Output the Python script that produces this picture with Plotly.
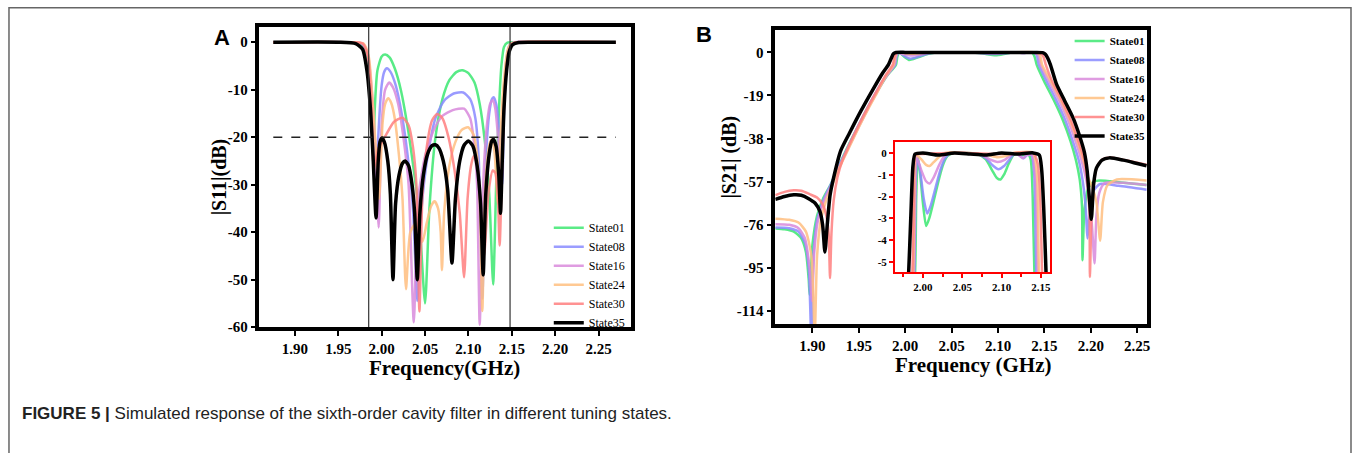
import plotly.graph_objects as go

W, H = 1355, 453


def px(x):
    return x / W


def py(y):
    return 1 - y / H


states = ["State01", "State08", "State16", "State24", "State30", "State35"]
colors = ["#3ee872", "#8a8cff", "#d98bdc", "#ffbf80", "#ff7f7f", "#000000"]
widths = [2.5, 2.5, 2.5, 2.5, 2.5, 3.5]

freq_ticks = [1.90, 1.95, 2.00, 2.05, 2.10, 2.15, 2.20, 2.25]
s11_ticks = [0, -10, -20, -30, -40, -50, -60]
s21_ticks = [0, -19, -38, -57, -76, -95, -114]
inset_xticks = [2.00, 2.05, 2.10, 2.15]
inset_yticks = [0, -1, -2, -3, -4, -5]

band_edges = [1.985, 2.148]
s11_spec = [(1.875, -20), (2.27, -20)]

# |S11| (dB) per tuning state, (GHz, dB)
s11_state01 = [(1.875, 0), (1.960, 0), (1.975, -0.3), (1.981, -1.5), (1.985, -6), (1.988, -14), (1.990, -24),
               (1.992, -14), (1.995, -6), (2.000, -3), (2.004, -2.6), (2.009, -3.2), (2.015, -5.5), (2.022, -10),
               (2.030, -18), (2.037, -27), (2.043, -36), (2.050, -55), (2.055, -35), (2.062, -20), (2.070, -12),
               (2.078, -8), (2.086, -6.3), (2.093, -5.9), (2.100, -6.5), (2.107, -8.5), (2.113, -13), (2.119, -21),
               (2.124, -32), (2.1285, -51), (2.132, -30), (2.135, -15), (2.138, -5), (2.141, -1), (2.145, -0.1),
               (2.160, 0), (2.270, 0)]
s11_state08 = [(1.875, 0), (1.962, 0), (1.977, -0.3), (1.983, -2), (1.987, -8), (1.990, -18), (1.993, -34),
               (1.996, -20), (2.000, -9), (2.003, -6.2), (2.006, -5.5), (2.010, -6.2), (2.016, -9), (2.023, -15),
               (2.030, -24), (2.036, -35), (2.041, -54.5), (2.046, -35), (2.053, -24), (2.062, -16), (2.072, -12.3),
               (2.083, -10.8), (2.094, -10.6), (2.102, -12), (2.108, -16), (2.112, -25), (2.116, -54), (2.120, -25),
               (2.124, -15), (2.127, -12), (2.129, -11.6), (2.132, -13), (2.136, -20), (2.139, -30), (2.141, -15),
               (2.144, -4), (2.147, -0.8), (2.152, -0.05), (2.170, 0), (2.270, 0)]
s11_state16 = [(1.875, 0), (1.963, 0), (1.978, -0.3), (1.984, -2.5), (1.988, -9), (1.992, -20), (1.9965, -39),
               (2.000, -17), (2.004, -10), (2.0085, -8.5), (2.013, -9.5), (2.019, -13), (2.025, -20), (2.031, -30),
               (2.037, -59), (2.042, -33), (2.050, -24), (2.060, -18.5), (2.070, -15.5), (2.082, -14.3), (2.095, -14),
               (2.102, -16), (2.107, -22), (2.110, -30), (2.113, -59.5), (2.117, -30), (2.121, -18), (2.125, -13),
               (2.128, -12.2), (2.131, -14), (2.135, -22), (2.138, -30), (2.141, -12), (2.144, -3.5), (2.148, -0.6),
               (2.153, -0.05), (2.170, 0), (2.270, 0)]
s11_state24 = [(1.875, 0), (1.964, 0), (1.979, -0.3), (1.985, -3), (1.989, -11), (1.993, -22), (1.997, -33),
               (2.001, -17), (2.004, -13), (2.0075, -11.8), (2.011, -12.8), (2.015, -16), (2.020, -24), (2.024, -33),
               (2.028, -52), (2.033, -40), (2.040, -38), (2.047, -42), (2.052, -38), (2.057, -34.5), (2.061, -33.5),
               (2.065, -35), (2.068, -40), (2.0695, -48), (2.072, -36), (2.078, -26), (2.085, -21), (2.092, -18.5),
               (2.0996, -17.9), (2.106, -19.5), (2.110, -24), (2.113, -33), (2.116, -56.6), (2.119, -32),
               (2.122, -24), (2.125, -21), (2.127, -20.5), (2.130, -23), (2.134, -34), (2.137, -20), (2.141, -8),
               (2.145, -1.8), (2.149, -0.3), (2.155, 0), (2.270, 0)]
s11_state30 = [(1.875, 0), (1.963, 0), (1.978, -0.3), (1.984, -3), (1.988, -12), (1.991, -26.6), (1.996, -22.5),
               (2.005, -19.5), (2.014, -16.8), (2.024, -15.9), (2.031, -17.5), (2.036, -22), (2.040, -30),
               (2.0435, -56.7), (2.047, -32), (2.052, -22), (2.058, -16.5), (2.064, -15.1), (2.070, -16),
               (2.077, -20), (2.084, -27), (2.090, -36), (2.095, -49.5), (2.099, -33), (2.103, -26), (2.106, -24),
               (2.109, -25), (2.112, -29), (2.118, -45), (2.123, -32), (2.128, -27), (2.131, -27.5), (2.134, -33),
               (2.136, -42.8), (2.139, -25), (2.142, -10), (2.146, -2.5), (2.150, -0.4), (2.156, 0), (2.270, 0)]
s11_state35 = [(1.875, 0), (1.950, 0), (1.970, -0.3), (1.978, -1.5), (1.983, -6), (1.987, -14), (1.990, -24),
               (1.9935, -37), (1.996, -25), (1.998, -21), (2.000, -20.2), (2.003, -21), (2.007, -25), (2.010, -32),
               (2.013, -50), (2.016, -34), (2.020, -28), (2.024, -25.5), (2.027, -25), (2.031, -26), (2.035, -30),
               (2.038, -36), (2.041, -50), (2.044, -36), (2.048, -28), (2.053, -23.5), (2.058, -21.8), (2.062, -21.6),
               (2.066, -22.3), (2.071, -25), (2.076, -31), (2.081, -46.5), (2.085, -33), (2.090, -25), (2.095, -21.7),
               (2.100, -20.8), (2.105, -21.8), (2.110, -26), (2.114, -34), (2.117, -49), (2.120, -32), (2.124, -23.5),
               (2.127, -20.8), (2.129, -20.5), (2.132, -22), (2.135, -28), (2.137, -36), (2.139, -25), (2.141, -14),
               (2.144, -6), (2.147, -2), (2.151, -0.5), (2.158, -0.05), (2.180, 0), (2.270, 0)]

# |S21| (dB) per tuning state, (GHz, dB)
s21_state01 = [(1.860, -77.6), (1.870, -78), (1.880, -79), (1.888, -82), (1.893, -88), (1.896, -100),
               (1.897, -106.8), (1.900, -85), (1.905, -72), (1.912, -64), (1.920, -58), (1.928, -50.5),
               (1.940, -40), (1.950, -32), (1.960, -24), (1.970, -17), (1.980, -10.5), (1.990, -5.5), (1.9915, -2),
               (1.9935, -0.2), (1.996, -0.8), (2.000, -2.3), (2.004, -3.35), (2.008, -3.0), (2.013, -2.3),
               (2.019, -1.4), (2.025, -0.6), (2.031, -0.15), (2.040, 0), (2.055, 0), (2.070, -0.05), (2.080, -0.3),
               (2.088, -0.8), (2.094, -1.15), (2.0986, -1.22), (2.103, -1.0), (2.109, -0.5), (2.115, -0.1),
               (2.122, 0), (2.128, -0.1), (2.133, 0), (2.137, -0.3), (2.1395, -2.0), (2.1417, -5.5), (2.150, -13),
               (2.160, -21), (2.170, -30), (2.178, -39), (2.184, -47.6), (2.188, -56), (2.1905, -68), (2.191, -91.6),
               (2.193, -70), (2.197, -60), (2.203, -57), (2.210, -56.5), (2.230, -57.2), (2.260, -58.5)]
s21_state08 = [(1.860, -77.2), (1.875, -77.5), (1.885, -79), (1.892, -84), (1.896, -95), (1.899, -128),
               (1.901, -90), (1.905, -74), (1.912, -65), (1.920, -58), (1.928, -50.5), (1.938, -42),
               (1.948, -33.5), (1.958, -25.5), (1.968, -18), (1.978, -11), (1.989, -5.5), (1.9905, -2),
               (1.9925, -0.2), (1.996, -0.7), (2.001, -2.1), (2.0055, -2.78), (2.010, -2.4), (2.016, -1.6),
               (2.022, -0.8), (2.028, -0.25), (2.035, 0), (2.055, 0), (2.070, -0.05), (2.080, -0.25), (2.088, -0.55),
               (2.096, -0.75), (2.103, -0.6), (2.110, -0.3), (2.116, -0.05), (2.122, -0.1), (2.128, -0.25),
               (2.132, -0.1), (2.138, -0.1), (2.1415, -1), (2.144, -5.5), (2.152, -12.5), (2.162, -20.5),
               (2.172, -29.5), (2.180, -38.5), (2.187, -47.6), (2.191, -56), (2.194, -66), (2.1965, -82),
               (2.199, -68), (2.203, -61), (2.210, -58), (2.230, -58.8), (2.260, -60.5)]
s21_state16 = [(1.860, -75.7), (1.875, -76), (1.885, -77.5), (1.892, -82), (1.897, -95), (1.8996, -109.6),
               (1.902, -88), (1.906, -74), (1.913, -65), (1.921, -58), (1.929, -50.5), (1.939, -42),
               (1.949, -33.5), (1.959, -25.5), (1.969, -18), (1.979, -11), (1.9885, -5.5), (1.990, -2),
               (1.992, -0.2), (1.998, -0.8), (2.004, -1.3), (2.0085, -1.4), (2.014, -1.1), (2.020, -0.6),
               (2.027, -0.15), (2.034, 0), (2.060, -0.02), (2.075, -0.1), (2.085, -0.3), (2.095, -0.42),
               (2.104, -0.32), (2.112, -0.1), (2.120, -0.05), (2.127, -0.25), (2.132, -0.1), (2.139, -0.1),
               (2.1435, -1.5), (2.146, -5.5), (2.154, -12), (2.165, -20.5), (2.175, -29.5), (2.183, -38.5),
               (2.190, -47.6), (2.195, -56), (2.199, -66), (2.2015, -78), (2.204, -93), (2.206, -72), (2.209, -62),
               (2.215, -57.5), (2.235, -57.5), (2.260, -58.5)]
s21_state24 = [(1.860, -73.3), (1.875, -73.8), (1.885, -75), (1.893, -79), (1.899, -90), (1.9025, -125),
               (1.905, -90), (1.909, -74), (1.915, -65), (1.922, -58), (1.930, -50), (1.940, -41.5),
               (1.950, -33), (1.960, -25), (1.970, -17.5), (1.979, -10.5), (1.9875, -5.5), (1.989, -2),
               (1.991, -0.1), (1.998, -0.3), (2.004, -0.55), (2.0085, -0.6), (2.013, -0.45), (2.020, -0.2),
               (2.028, 0), (2.060, 0), (2.080, -0.08), (2.095, -0.2), (2.105, -0.15), (2.115, 0), (2.140, 0),
               (2.145, -1), (2.1475, -5.5), (2.156, -12), (2.167, -20.5), (2.177, -29.5), (2.185, -38.5),
               (2.192, -47.6), (2.197, -55), (2.202, -60), (2.206, -66), (2.210, -83), (2.213, -66),
               (2.218, -58.5), (2.228, -56), (2.260, -56.5)]
s21_state30 = [(1.860, -63), (1.870, -61.5), (1.880, -60.8), (1.888, -61), (1.897, -62.5), (1.905, -64),
               (1.911, -67), (1.915, -72), (1.9175, -80), (1.919, -99.5), (1.9205, -80), (1.923, -65),
               (1.927, -55), (1.932, -48), (1.940, -40.5), (1.950, -32), (1.960, -24), (1.970, -16.5),
               (1.979, -10), (1.9865, -5.5), (1.9885, -2), (1.9905, -0.1), (2.000, -0.05), (2.050, 0),
               (2.100, -0.05), (2.140, 0), (2.146, -0.5), (2.149, -2), (2.1515, -5.5), (2.158, -12.5),
               (2.168, -20.5), (2.178, -29.5), (2.186, -38.5), (2.193, -47.6), (2.196, -56), (2.1985, -70),
               (2.199, -99), (2.2005, -75), (2.203, -58), (2.207, -50), (2.213, -47), (2.222, -46.3),
               (2.240, -47.8), (2.260, -49.5)]
s21_state35 = [(1.860, -64.8), (1.870, -63.5), (1.880, -62.8), (1.888, -63), (1.896, -64.5), (1.903, -66.5),
               (1.908, -70), (1.911, -76), (1.9135, -88), (1.916, -76), (1.919, -63), (1.923, -55),
               (1.9305, -43.3), (1.940, -35.5), (1.952, -26), (1.965, -16.5), (1.975, -9.5), (1.9818, -5.5),
               (1.9845, -3), (1.9873, -0.6), (1.990, -0.05), (2.000, 0), (2.020, -0.1), (2.040, 0), (2.060, -0.05),
               (2.080, -0.1), (2.100, 0), (2.120, -0.05), (2.140, 0), (2.148, -0.1), (2.151, -0.8), (2.1535, -2.5),
               (2.1565, -5.5), (2.163, -14), (2.172, -21.5), (2.181, -29), (2.188, -37), (2.193, -44), (2.196, -52),
               (2.198, -62), (2.2005, -73.6), (2.203, -58), (2.206, -51), (2.212, -47.5), (2.220, -46.5),
               (2.235, -47.5), (2.250, -49), (2.260, -50)]

s11_curves = [s11_state01, s11_state08, s11_state16, s11_state24, s11_state30, s11_state35]
s21_curves = [s21_state01, s21_state08, s21_state16, s21_state24, s21_state30, s21_state35]

serif = "Liberation Serif, Times New Roman, serif"

fig = go.Figure()

for name, col, w, pts in zip(states, colors, widths, s11_curves):
    fig.add_trace(go.Scatter(
        x=[p[0] for p in pts], y=[p[1] for p in pts], name=name, mode="lines",
        line=dict(color=col, width=w, shape="spline", smoothing=0.6),
        opacity=1 if col == "#000000" else 0.85,
        xaxis="x", yaxis="y", legend="legend"))

fig.add_trace(go.Scatter(
    x=[p[0] for p in s11_spec], y=[p[1] for p in s11_spec], mode="lines",
    line=dict(color="#222", width=1.5, dash="dash"), showlegend=False, xaxis="x", yaxis="y"))

for name, col, w, pts in zip(states, colors, widths, s21_curves):
    fx = [p[0] for p in pts]
    fy = [p[1] for p in pts]
    op = 1 if col == "#000000" else 0.85
    fig.add_trace(go.Scatter(
        x=fx, y=fy, name=name, mode="lines",
        line=dict(color=col, width=w, shape="spline", smoothing=0.6),
        opacity=op, xaxis="x2", yaxis="y2", legend="legend2"))
    # same data again for the zoomed passband inset
    fig.add_trace(go.Scatter(
        x=fx, y=fy, name=name, mode="lines",
        line=dict(color=col, width=w, shape="spline", smoothing=0.6),
        opacity=op, xaxis="x3", yaxis="y3", showlegend=False))

for f in band_edges:
    fig.add_shape(type="line", xref="x", yref="y domain", x0=f, x1=f, y0=0, y1=1,
                  line=dict(color="#333", width=1.2))

tick_font = dict(family=serif, size=15, color="black", weight="bold")
frame = dict(showline=True, mirror=True, linewidth=3.5, linecolor="black", showgrid=False, zeroline=False,
             ticks="outside", ticklen=5, tickwidth=2, tickcolor="black", tickfont=tick_font)
inset_frame = dict(showline=True, mirror=True, linewidth=2, linecolor="red", showgrid=False, zeroline=False,
                   ticks="outside", ticklen=4, tickwidth=1.5, tickcolor="red",
                   tickfont=dict(family=serif, size=11, color="black", weight="bold"))

fig.update_layout(
    width=W, height=H, margin=dict(l=0, r=0, t=0, b=0),
    paper_bgcolor="white", plot_bgcolor="white", showlegend=True,
    xaxis=dict(domain=[px(260), px(632)], range=[1.859, 2.287], anchor="y",
               tickvals=freq_ticks, tickformat=".2f", **frame),
    yaxis=dict(domain=[py(333), py(27)], range=[-60, 3.3], anchor="x", tickvals=s11_ticks,
               ticktext=[str(v) for v in s11_ticks], **frame),
    xaxis2=dict(domain=[px(777), px(1150)], range=[1.860, 2.261], anchor="y2",
                tickvals=freq_ticks, tickformat=".2f", **frame),
    yaxis2=dict(domain=[py(330), py(30.7)], range=[-119.8, 9.8], anchor="x2", tickvals=s21_ticks,
                ticktext=[str(v) for v in s21_ticks], **frame),
    xaxis3=dict(domain=[px(897), px(1052.7)], range=[1.9645, 2.162], anchor="y3",
                tickvals=inset_xticks, tickformat=".2f",
                minor=dict(dtick=0.025, ticks="outside", ticklen=3, tickcolor="red"), **inset_frame),
    yaxis3=dict(domain=[py(277), py(144.3)], range=[-5.46, 0.51], anchor="x3",
                tickvals=inset_yticks, ticktext=[str(v) for v in inset_yticks], **inset_frame),
    legend=dict(x=px(550), y=py(217), xanchor="left", yanchor="top", bgcolor="rgba(0,0,0,0)",
                font=dict(family=serif, size=12, color="black"), tracegroupgap=0, itemwidth=30),
    legend2=dict(x=px(1072), y=py(27), xanchor="left", yanchor="top", bgcolor="rgba(0,0,0,0)",
                 font=dict(family=serif, size=11, color="black", weight="bold"), tracegroupgap=0,
                 itemwidth=30),
)

ann = dict(xref="paper", yref="paper", showarrow=False, xanchor="center", yanchor="middle")
title_font = dict(family=serif, size=21, color="black", weight="bold")
fig.add_annotation(text="Frequency(GHz)", x=px(445), y=py(375), font=title_font, **ann)
fig.add_annotation(text="Frequency (GHz)", x=px(976), y=py(372), font=title_font, **ann)
fig.add_annotation(text="|S11|(dB)", x=px(220), y=py(180), textangle=-90,
                   font=dict(family=serif, size=20, color="black", weight="bold"), **ann)
fig.add_annotation(text="|S21| (dB)", x=px(731), y=py(160), textangle=-90,
                   font=dict(family=serif, size=20, color="black", weight="bold"), **ann)

panel_font = dict(family="Liberation Sans, Arial, sans-serif", size=22, color="black", weight="bold")
fig.add_annotation(text="A", x=px(222), y=py(38), font=panel_font, **ann)
fig.add_annotation(text="B", x=px(706), y=py(35), font=panel_font, **ann)

fig.add_annotation(
    text="<b>FIGURE 5 |</b> Simulated response of the sixth-order cavity filter in different tuning states.",
    x=px(20), y=py(421), xref="paper", yref="paper", xanchor="left", yanchor="middle", showarrow=False,
    font=dict(family="Liberation Sans Narrow, Liberation Sans, Arial, sans-serif", size=17, color="#222"))

fig.add_shape(type="rect", xref="paper", yref="paper", x0=px(9), x1=px(1354), y0=-0.1, y1=py(8),
              line=dict(color="#666", width=1.5))

fig.write_html("out.html", post_script="document.body.style.margin='0px';",
               config={"displayModeBar": False})
